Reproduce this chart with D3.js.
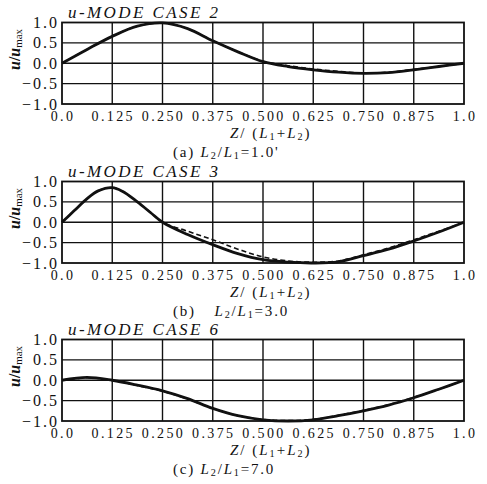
<!DOCTYPE html>
<html><head><meta charset="utf-8">
<script src="https://cdn.jsdelivr.net/npm/d3@7/dist/d3.min.js"></script>
<style>body{margin:0;background:#fff}svg{display:block}text{font-family:"Liberation Serif","DejaVu Serif",serif;fill:#111}</style>
</head><body><svg id="c" width="487" height="484"></svg>
<script>
// ---- data ----
const xTicks = [0, 0.125, 0.25, 0.375, 0.5, 0.625, 0.75, 0.875, 1.0];
const xTickLabels = ["0.0","0.125","0.250","0.375","0.500","0.625","0.750","0.875","1.0"];
const yTicks = [1.0, 0.5, 0.0, -0.5, -1.0];
const yTickLabels = ["1.0","0.5","0.0","\u22120.5","\u22121.0"];
const zPos = [0, 0.0625, 0.125, 0.1875, 0.25, 0.3125, 0.375, 0.4375, 0.5, 0.5625, 0.625, 0.6875, 0.75, 0.8125, 0.875, 0.9375, 1.0];
const case2Solid  = [0, 0.34, 0.66, 0.91, 0.99, 0.85, 0.55, 0.28, 0.04, -0.08, -0.16, -0.22, -0.25, -0.23, -0.16, -0.08, 0];
const case2Dashed = [0, 0.34, 0.66, 0.91, 0.99, 0.85, 0.55, 0.28, 0.05, -0.06, -0.14, -0.20, -0.24, -0.22, -0.15, -0.08, 0];
const zPos3 = [0, 0.03, 0.0625, 0.09, 0.125, 0.15, 0.1875, 0.22, 0.25, 0.3125, 0.375, 0.4375, 0.5, 0.5625, 0.625, 0.6875, 0.75, 0.8125, 0.875, 0.9375, 1.0];
const case3Solid  = [0, 0.28, 0.58, 0.77, 0.85, 0.76, 0.50, 0.24, 0, -0.30, -0.55, -0.77, -0.92, -0.98, -1.0, -0.97, -0.82, -0.66, -0.46, -0.24, 0];
const case3Dashed = [0, 0.28, 0.58, 0.77, 0.85, 0.76, 0.50, 0.24, 0, -0.22, -0.43, -0.66, -0.85, -0.95, -0.98, -0.95, -0.80, -0.63, -0.43, -0.22, 0];
const case6Solid  = [0, 0.07, 0, -0.12, -0.26, -0.45, -0.69, -0.87, -0.97, -1.0, -0.97, -0.87, -0.75, -0.61, -0.43, -0.22, 0];
const case6Dashed = [0, 0.06, 0, -0.13, -0.27, -0.46, -0.69, -0.87, -0.96, -0.99, -0.96, -0.86, -0.74, -0.60, -0.42, -0.22, 0];
const titles = ["CASE 2", "CASE 3", "CASE 6"];
const captionLetters = ["(a) ", "(b)\u2002\u2002", "(c) "];
const ratios = ["1.0'", "3.0", "7.0"];

const panels = [
  {top: 22.5, z: zPos, solid: case2Solid, dashed: case2Dashed},
  {top: 181.5, z: zPos3, solid: case3Solid, dashed: case3Dashed},
  {top: 339.5, z: zPos, solid: case6Solid, dashed: case6Dashed}
];
const L = 62, R = 464, H = 81.5;
const svg = d3.select("#c");

function rich(g, x, y, segs, size, anchor) {
  const t = g.append("text").attr("x", x).attr("y", y).attr("font-size", size).attr("text-anchor", anchor || "start");
  segs.forEach(s => {
    const ts = t.append("tspan").text(s.t);
    if (s.i) ts.attr("font-style", "italic");
    if (s.b) ts.attr("font-weight", "bold");
    if (s.small) ts.attr("font-size", size * 0.68);
    if (s.dy) ts.attr("dy", s.dy);
  });
  return t;
}

panels.forEach((p, k) => {
  const x = d3.scaleLinear().domain([0, 1]).range([L, R]);
  const y = d3.scaleLinear().domain([-1, 1]).range([p.top + H, p.top]);
  const g = svg.append("g");
  const bottom = y(-1);
  // grid
  g.selectAll(".gx").data(xTicks.slice(1, -1)).join("line")
    .attr("x1", d => x(d)).attr("x2", d => x(d)).attr("y1", y(1)).attr("y2", y(-1))
    .attr("stroke", "#111").attr("stroke-width", 1.4);
  g.selectAll(".gy").data(yTicks.slice(1, -1)).join("line")
    .attr("y1", d => y(d)).attr("y2", d => y(d)).attr("x1", L).attr("x2", R)
    .attr("stroke", "#111").attr("stroke-width", 1.4);
  g.append("rect").attr("x", L).attr("y", y(1)).attr("width", R - L).attr("height", y(-1) - y(1))
    .attr("fill", "none").attr("stroke", "#111").attr("stroke-width", 1.8);
  // curves
  const line = d3.line().x((d, i) => x(p.z[i])).y(d => y(d)).curve(d3.curveCatmullRom.alpha(0.5));
  g.append("path").attr("d", line(p.dashed)).attr("fill", "none").attr("stroke", "#111")
    .attr("stroke-width", 1.6).attr("stroke-dasharray", "5,3");
  g.append("path").attr("d", line(p.solid)).attr("fill", "none").attr("stroke", "#111")
    .attr("stroke-width", 2.8);
  // x tick labels
  g.selectAll(".xt").data(xTicks).join("text")
    .attr("x", d => x(d) + 1).attr("y", bottom + 16.5).attr("text-anchor", "middle")
    .attr("font-size", 14).attr("letter-spacing", 2.4)
    .text((d, i) => xTickLabels[i]);
  // y tick labels
  g.selectAll(".yt").data(yTicks).join("text")
    .attr("x", 59).attr("y", d => y(d) + 5.5).attr("text-anchor", "end")
    .attr("font-size", 16).attr("letter-spacing", 2)
    .text((d, i) => yTickLabels[i]);
  // title
  rich(g, 68, p.top - 4.5, [{t: "u", i: true}, {t: "-MODE  " + titles[k], i: true}], 17)
    .attr("textLength", 150).attr("lengthAdjust", "spacing");
  // y label
  rich(g, 0, 0, [{t: "u", i: true, b: true}, {t: "/", b: true}, {t: "u", i: true, b: true}, {t: "max", small: true, dy: 2}], 16, "middle")
    .attr("transform", `translate(20,${p.top + 27}) rotate(-90)`);
  // x label
  rich(g, 230, bottom + 33.5, [{t: "Z", i: true}, {t: "/ ("}, {t: "L", i: true}, {t: "1", small: true, dy: 2}, {t: "+", dy: -2}, {t: "L", i: true}, {t: "2", small: true, dy: 2}, {t: ")", dy: -2}], 15)
    .attr("letter-spacing", 2);
  // caption
  rich(g, 173, bottom + 52.5, [{t: captionLetters[k]}, {t: "L", i: true}, {t: "2", small: true, dy: 2}, {t: "/", dy: -2}, {t: "L", i: true}, {t: "1", small: true, dy: 2}, {t: "=" + ratios[k], dy: -2}], 15)
    .attr("letter-spacing", 1.8);
});
</script></body></html>
